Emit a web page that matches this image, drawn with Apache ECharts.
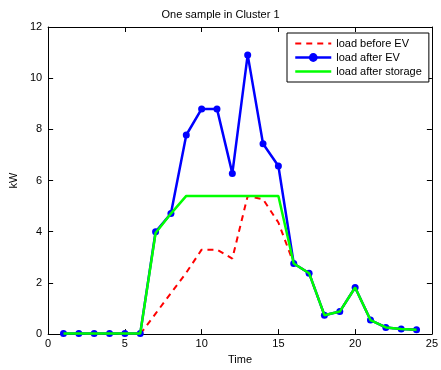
<!DOCTYPE html>
<html><head><meta charset="utf-8">
<script src="https://cdn.jsdelivr.net/npm/echarts@6/dist/echarts.min.js"></script>
<style>html,body{margin:0;padding:0;background:#fff}#c{width:441px;height:370px}</style>
</head><body><div id="c"></div>
<script>
const hours = [1,2,3,4,5,6,7,8,9,10,11,12,13,14,15,16,17,18,19,20,21,22,23,24];
const loadBeforeEV = [0,0,0,0,0,0,0.8,1.6,2.4,3.3,3.3,2.95,5.4,5.27,4.36,2.76,2.38,0.74,0.88,1.82,0.55,0.26,0.20,0.17];
const loadAfterEV = [0.02,0.02,0.02,0.02,0.02,0.02,4.0,4.71,7.78,8.8,8.8,6.28,10.91,7.44,6.57,2.76,2.38,0.74,0.88,1.82,0.55,0.26,0.20,0.17];
const loadAfterStorage = [0.02,0.02,0.02,0.02,0.02,0.02,3.95,4.71,5.4,5.4,5.4,5.4,5.4,5.4,5.4,2.76,2.38,0.74,0.88,1.82,0.55,0.26,0.20,0.17];
const seriesNames = ['load before EV','load after EV','load after storage'];

const pair = arr => hours.map((h,i)=>[h,arr[i]]);
const font = 'Liberation Sans, Arial, sans-serif';
const chart = echarts.init(document.getElementById('c'));
const tickIn = {show:true, inside:true, length:5, lineStyle:{color:'#000'}};
const hidden = {color:'rgba(0,0,0,0)', borderWidth:0};
chart.setOption({
  animation:false,
  title:{text:'One sample in Cluster 1', left:'center', top:4, textStyle:{fontSize:11, fontWeight:'normal', color:'#000', fontFamily:font}},
  grid:{left:46, right:5, top:27, bottom:35},
  legend:{
    orient:'vertical', left:287, top:33, padding:[5,7,5,7], itemGap:3, itemWidth:36, itemHeight:11, itemTextGap:4,
    backgroundColor:'#fff', borderColor:'#000', borderWidth:1, borderRadius:0,
    textStyle:{fontSize:11, color:'#000', fontFamily:font},
    data:[
      {name:seriesNames[0], itemStyle:hidden, lineStyle:{color:'#ff0000', width:2, type:[6,5]}},
      {name:seriesNames[1], itemStyle:{color:'#0000ff'}, lineStyle:{color:'#0000ff', width:2.5}},
      {name:seriesNames[2], itemStyle:hidden, lineStyle:{color:'#00ff00', width:2.5}}
    ]
  },
  xAxis:[
    {type:'value', min:0, max:25, interval:5, position:'bottom',
     axisLine:{show:true, onZero:false, lineStyle:{color:'#000'}}, axisTick:tickIn, splitLine:{show:false},
     axisLabel:{color:'#000', fontSize:11, fontFamily:font, margin:4},
     name:'Time', nameLocation:'middle', nameGap:17, nameTextStyle:{color:'#000', fontSize:11, fontFamily:font}},
    {type:'value', min:0, max:25, interval:5, position:'top',
     axisLine:{show:true, onZero:false, lineStyle:{color:'#000'}}, axisTick:tickIn, axisLabel:{show:false}, splitLine:{show:false}}
  ],
  yAxis:[
    {type:'value', min:0, max:12, interval:2, position:'left',
     axisLine:{show:true, onZero:false, lineStyle:{color:'#000'}}, axisTick:tickIn, splitLine:{show:false},
     axisLabel:{color:'#000', fontSize:11, fontFamily:font, margin:6},
     name:'kW', nameLocation:'middle', nameGap:28, nameTextStyle:{color:'#000', fontSize:11, fontFamily:font}},
    {type:'value', min:0, max:12, interval:2, position:'right',
     axisLine:{show:true, onZero:false, lineStyle:{color:'#000'}}, axisTick:tickIn, axisLabel:{show:false}, splitLine:{show:false}}
  ],
  series:[
    {name:seriesNames[0], type:'line', data:pair(loadBeforeEV), showSymbol:false, symbol:'none',
     lineStyle:{color:'#ff0000', width:2, type:[6,5]}, itemStyle:{color:'#ff0000'}, z:2},
    {name:seriesNames[1], type:'line', data:pair(loadAfterEV), symbol:'circle', symbolSize:7, showSymbol:true,
     lineStyle:{color:'#0000ff', width:2.5}, itemStyle:{color:'#0000ff'}, z:3},
    {name:seriesNames[2], type:'line', data:pair(loadAfterStorage), symbol:'none', showSymbol:false,
     lineStyle:{color:'#00ff00', width:2.5}, itemStyle:{color:'#00ff00'}, z:4}
  ]
});
</script></body></html>
